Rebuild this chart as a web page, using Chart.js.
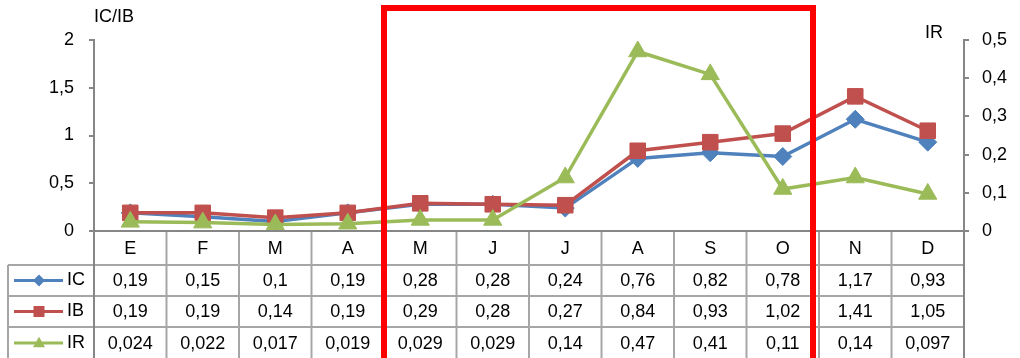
<!DOCTYPE html>
<html>
<head>
<meta charset="utf-8">
<script src="https://cdn.jsdelivr.net/npm/chart.js@4/dist/chart.umd.min.js"></script>
<style>
  html, body { margin: 0; padding: 0; background: #ffffff; }
  canvas { display: block; }
</style>
</head>
<body>
<canvas id="chart" width="1020" height="358"></canvas>
<script>
// Monthly indices
const months = ['E', 'F', 'M', 'A', 'M', 'J', 'J', 'A', 'S', 'O', 'N', 'D'];
const icValues = [0.19, 0.15, 0.1, 0.19, 0.28, 0.28, 0.24, 0.76, 0.82, 0.78, 1.17, 0.93];
const ibValues = [0.19, 0.19, 0.14, 0.19, 0.29, 0.28, 0.27, 0.84, 0.93, 1.02, 1.41, 1.05];
const irValues = [0.024, 0.022, 0.017, 0.019, 0.029, 0.029, 0.14, 0.47, 0.41, 0.11, 0.14, 0.097];
const leftTicks = [0, 0.5, 1, 1.5, 2];
const rightTicks = [0, 0.1, 0.2, 0.3, 0.4, 0.5];
const leftTitle = 'IC/IB';
const rightTitle = 'IR';
const highlightFrom = 4;   // first highlighted month (M)
const highlightTo = 9;     // last highlighted month (O)

const FONT = '"Liberation Sans", Arial, sans-serif';
const AXIS_GREY = '#868686';
const TABLE_GREY = '#a6a6a6';
const COLORS = { IC: '#4f81bd', IB: '#c0504d', IR: '#9bbb59' };

const fmt = v => String(Math.round(v * 1000) / 1000).replace('.', ',');

const series = [
  { name: 'IC', values: icValues, axis: 'y', style: 'rectRot', radius: 9, order: 3 },
  { name: 'IB', values: ibValues, axis: 'y', style: 'rect', radius: 11, order: 2 },
  { name: 'IR', values: irValues, axis: 'y1', style: 'triangle', radius: 10.5, order: 1 }
];

function drawMarker(ctx, style, x, y, r) {
  ctx.beginPath();
  if (style === 'rectRot') {
    ctx.moveTo(x, y - r); ctx.lineTo(x + r, y); ctx.lineTo(x, y + r); ctx.lineTo(x - r, y);
  } else if (style === 'rect') {
    ctx.rect(x - r, y - r, 2 * r, 2 * r);
  } else {
    const h = r * 1.5, w = r * 1.732;
    ctx.moveTo(x, y - h * 0.6); ctx.lineTo(x + w / 2, y + h * 0.4); ctx.lineTo(x - w / 2, y + h * 0.4);
  }
  ctx.closePath();
  ctx.fill();
}

// Data table under the plot, columns aligned with the category scale
const dataTablePlugin = {
  id: 'dataTable',
  afterDraw(chart) {
    const { ctx, chartArea } = chart;
    const xs = chart.scales.x;
    const L = chartArea.left, R = chartArea.right, top = chartArea.bottom;
    const n = months.length;
    const edges = [L];
    for (let i = 0; i < n - 1; i++) {
      edges.push((xs.getPixelForValue(i) + xs.getPixelForValue(i + 1)) / 2);
    }
    edges.push(R);
    const rows = [top, top + 34, top + 65, top + 96, top + 128];
    const headerLeft = 8;
    const bottom = chart.height + 4;

    ctx.save();
    ctx.lineWidth = 2;
    ctx.strokeStyle = TABLE_GREY;
    // horizontal rules
    for (let r = 1; r < rows.length - 1; r++) {
      ctx.beginPath(); ctx.moveTo(headerLeft, rows[r]); ctx.lineTo(R, rows[r]); ctx.stroke();
    }
    // vertical rules
    for (let i = 1; i < edges.length - 1; i++) {
      ctx.beginPath(); ctx.moveTo(edges[i], top); ctx.lineTo(edges[i], bottom); ctx.stroke();
    }
    ctx.beginPath(); ctx.moveTo(headerLeft, rows[1]); ctx.lineTo(headerLeft, bottom); ctx.stroke();
    ctx.strokeStyle = AXIS_GREY;
    ctx.beginPath(); ctx.moveTo(L, top); ctx.lineTo(L, bottom); ctx.stroke();
    ctx.beginPath(); ctx.moveTo(R, top); ctx.lineTo(R, bottom); ctx.stroke();
    ctx.beginPath(); ctx.moveTo(L, top); ctx.lineTo(R, top); ctx.stroke();

    // header row: months
    ctx.fillStyle = '#000000';
    ctx.font = '18px ' + FONT;
    ctx.textAlign = 'center';
    ctx.textBaseline = 'middle';
    months.forEach((m, i) => {
      ctx.fillText(m, (edges[i] + edges[i + 1]) / 2, (rows[0] + rows[1]) / 2 + 1);
    });
    // value rows with legend keys
    series.forEach((s, r) => {
      const cy = (rows[r + 1] + rows[r + 2]) / 2;
      ctx.fillStyle = '#000000';
      ctx.textAlign = 'center';
      s.values.forEach((v, i) => {
        ctx.fillText(fmt(v), (edges[i] + edges[i + 1]) / 2, cy + 1);
      });
      const color = COLORS[s.name];
      ctx.strokeStyle = color;
      ctx.lineWidth = 3;
      ctx.beginPath(); ctx.moveTo(14, cy); ctx.lineTo(63, cy); ctx.stroke();
      ctx.fillStyle = color;
      drawMarker(ctx, s.style, 39, cy, s.style === 'rect' ? 5.5 : (s.style === 'rectRot' ? 6 : 7));
      ctx.fillStyle = '#000000';
      ctx.textAlign = 'left';
      ctx.fillText(s.name, 67, cy);
    });

    // axis titles
    ctx.fillStyle = '#000000';
    ctx.textAlign = 'left';
    ctx.fillText(leftTitle, 94, 17);
    ctx.fillText(rightTitle, 925, 33);
    ctx.restore();
  }
};

// Red frame around the highlighted months
const highlightPlugin = {
  id: 'highlightFrame',
  afterDraw(chart) {
    const { ctx, chartArea } = chart;
    const xs = chart.scales.x;
    const left = (xs.getPixelForValue(highlightFrom - 1) + xs.getPixelForValue(highlightFrom)) / 2;
    const right = (xs.getPixelForValue(highlightTo) + xs.getPixelForValue(highlightTo + 1)) / 2 - 6;
    const top = chartArea.top - 32;
    ctx.save();
    ctx.strokeStyle = '#ff0000';
    ctx.lineWidth = 6;
    ctx.strokeRect(left, top, right - left, chart.height + 20 - top);
    ctx.restore();
  }
};

new Chart(document.getElementById('chart'), {
  type: 'line',
  data: {
    labels: months,
    datasets: series.map(s => ({
      label: s.name,
      data: s.values,
      yAxisID: s.axis,
      order: s.order,
      borderColor: COLORS[s.name],
      backgroundColor: COLORS[s.name],
      borderWidth: 3.5,
      pointStyle: s.style,
      pointRadius: s.radius,
      pointHoverRadius: s.radius,
      pointBorderWidth: 1,
      pointBackgroundColor: COLORS[s.name],
      pointBorderColor: COLORS[s.name],
      tension: 0,
      clip: false
    }))
  },
  options: {
    responsive: false,
    animation: false,
    events: [],
    layout: { padding: { top: 40, bottom: 127, left: 0, right: 0 } },
    plugins: { legend: { display: false }, tooltip: { enabled: false } },
    scales: {
      x: { type: 'category', display: false, offset: true },
      y: {
        position: 'left',
        min: 0, max: 2,
        afterBuildTicks: sc => { sc.ticks = leftTicks.map(v => ({ value: v })); },
        afterFit: sc => { sc.width = 94; },
        ticks: {
          font: { family: FONT, size: 18 }, color: '#000000', padding: 15,
          callback: v => fmt(v)
        },
        grid: { drawOnChartArea: false, drawTicks: true, tickLength: 5, color: AXIS_GREY, lineWidth: 2 },
        border: { color: AXIS_GREY, width: 2 }
      },
      y1: {
        position: 'right',
        min: 0, max: 0.5,
        afterBuildTicks: sc => { sc.ticks = rightTicks.map(v => ({ value: v })); },
        afterFit: sc => { sc.width = 56; },
        ticks: {
          font: { family: FONT, size: 18 }, color: '#000000', padding: 13,
          callback: v => fmt(v)
        },
        grid: { drawOnChartArea: false, drawTicks: true, tickLength: 5, color: AXIS_GREY, lineWidth: 2 },
        border: { color: AXIS_GREY, width: 2 }
      }
    }
  },
  plugins: [dataTablePlugin, highlightPlugin]
});
</script>
</body>
</html>
